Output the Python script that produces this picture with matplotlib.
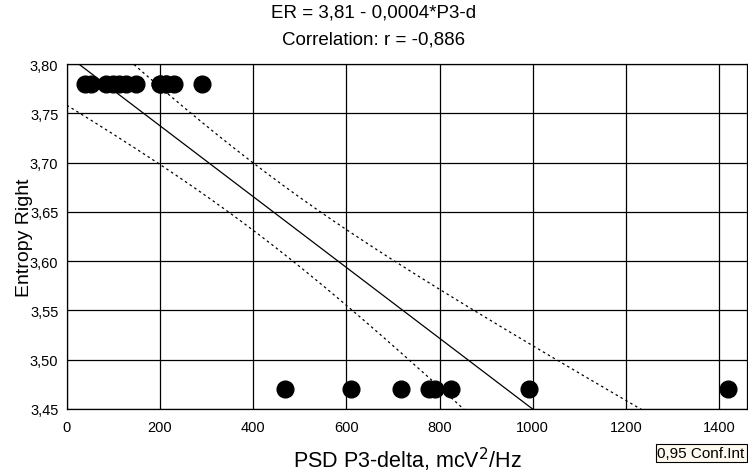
import numpy as np
import matplotlib
matplotlib.use('Agg')
import matplotlib.pyplot as plt
from matplotlib.ticker import FuncFormatter, MultipleLocator

# data (top cluster has overlapping dots near 200)
psd_top = [38, 53, 85, 99, 113, 128, 148, 199, 199, 213, 213, 231, 291]
er_top = [3.78] * len(psd_top)
psd_bottom = [468, 609, 718, 778, 791, 825, 991, 1419]
er_bottom = [3.47] * len(psd_bottom)

x = np.array(psd_top + psd_bottom, dtype=float)
y = np.array(er_top + er_bottom, dtype=float)

# linear fit and 95% confidence band of the mean
n = len(x)
slope, intercept = np.polyfit(x, y, 1)
resid = y - (intercept + slope * x)
s = np.sqrt(np.sum(resid ** 2) / (n - 2))
t_crit = 2.093  # t(0.975, df=19)
xm = x.mean()
sxx = np.sum((x - xm) ** 2)

xx = np.linspace(0, 1500, 300)
yy = intercept + slope * xx
half = t_crit * s * np.sqrt(1.0 / n + (xx - xm) ** 2 / sxx)

plt.rcParams['font.family'] = ['Liberation Sans', 'DejaVu Sans']
fig = plt.figure(figsize=(7.48, 4.77), dpi=100)
ax = fig.add_axes([0.0893, 0.1405, 0.9094, 0.7232])

ax.grid(True, color='black', linewidth=0.9, zorder=1)
ax.plot(xx, yy, color='black', linewidth=0.9, zorder=2)
ax.plot(xx, yy + half, color='black', linewidth=0.9, linestyle=(0, (2, 2.5)), zorder=2)
ax.plot(xx, yy - half, color='black', linewidth=0.9, linestyle=(0, (2, 2.5)), zorder=2)
ax.scatter(x, y, s=145, color='black', zorder=3, clip_on=False)

ax.set_xlim(0, 1460)
ax.set_ylim(3.45, 3.80)
ax.xaxis.set_major_locator(MultipleLocator(200))
ax.yaxis.set_major_locator(MultipleLocator(0.05))
ax.yaxis.set_major_formatter(FuncFormatter(lambda v, p: ('%.2f' % v).replace('.', ',')))
ax.tick_params(axis='both', labelsize=10.5, length=0)
ax.tick_params(axis='x', pad=8)
ax.tick_params(axis='y', pad=6)
for sp in ax.spines.values():
    sp.set_linewidth(0.9)

ax.set_xlabel('PSD P3-delta, mcV$^2$/Hz', fontsize=15.5, labelpad=8)
ax.set_ylabel('Entropy Right', fontsize=14)
ax.yaxis.set_label_coords(-0.05, 0.5)
fig.text(0.5, 0.973, 'ER = 3,81 - 0,0004*P3-d', ha='center', va='center', fontsize=13.5)
fig.text(0.5, 0.917, 'Correlation: r = -0,886', ha='center', va='center', fontsize=13.5)

fig.text(0.879, 0.048, '0,95 Conf.Int', ha='left', va='center', fontsize=11,
         bbox=dict(boxstyle='square,pad=0.12', facecolor='#fffaf0', edgecolor='black', linewidth=0.8))

fig.savefig('out.png', dpi=100)
